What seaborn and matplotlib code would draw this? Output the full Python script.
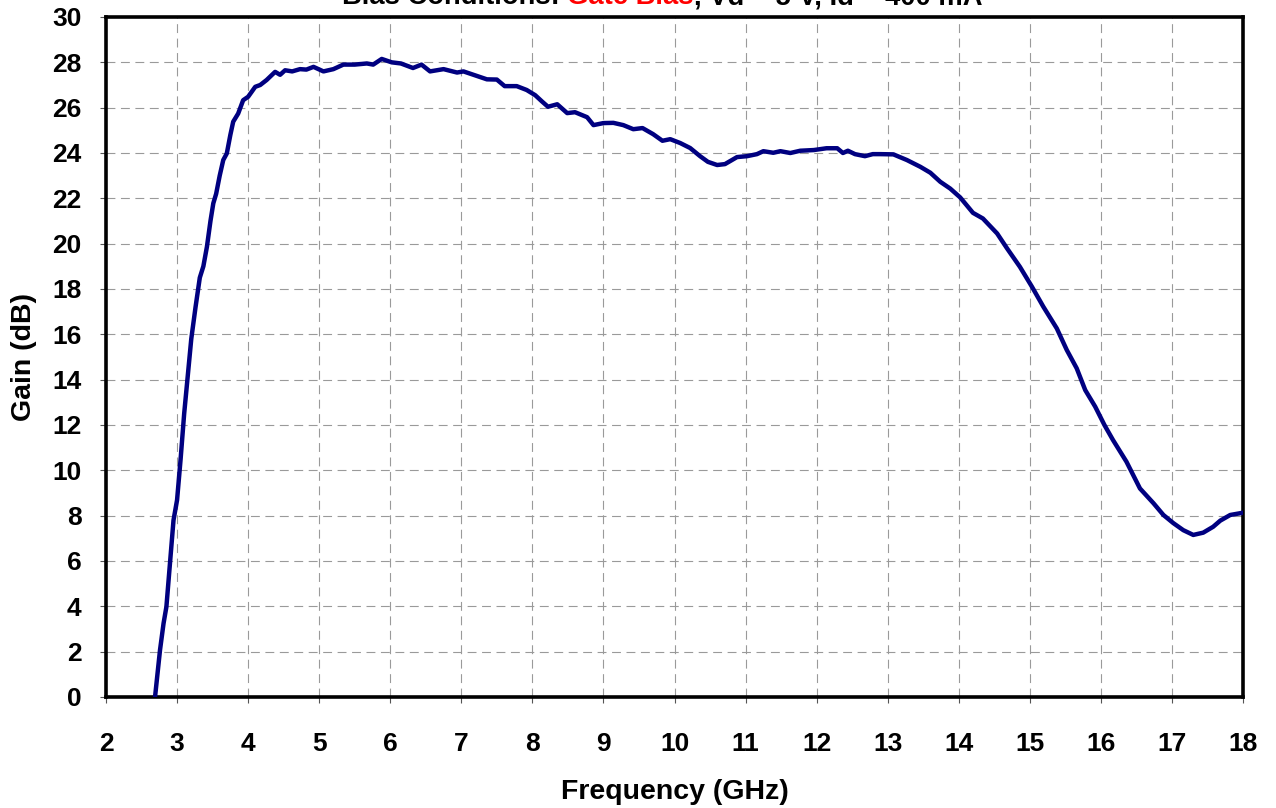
import numpy as np
import pandas as pd
import seaborn as sns
import matplotlib
matplotlib.use("Agg")
import matplotlib.pyplot as plt

# gain curve
freq = [2.69, 2.76, 2.81, 2.85, 2.90, 2.95, 3.00, 3.05, 3.10, 3.13,
        3.20, 3.26, 3.32, 3.37, 3.42, 3.47, 3.51, 3.55, 3.60, 3.65,
        3.70, 3.75, 3.79, 3.86, 3.93, 4.00, 4.10, 4.17, 4.26, 4.38,
        4.45, 4.52, 4.62, 4.73, 4.82, 4.92, 5.06, 5.20, 5.34, 5.50,
        5.67, 5.76, 5.88, 6.02, 6.15, 6.32, 6.44, 6.56, 6.75, 6.94,
        7.03, 7.22, 7.36, 7.50, 7.61, 7.78, 7.92, 8.04, 8.14, 8.22,
        8.35, 8.49, 8.60, 8.77, 8.86, 9.00, 9.14, 9.28, 9.42, 9.55,
        9.70, 9.83, 9.94, 10.08, 10.22, 10.36, 10.47, 10.60, 10.71, 10.88,
        11.02, 11.16, 11.25, 11.39, 11.49, 11.63, 11.77, 11.96, 12.14, 12.29,
        12.37, 12.44, 12.54, 12.68, 12.79, 12.89, 13.08, 13.27, 13.46, 13.60,
        13.74, 13.88, 14.02, 14.20, 14.34, 14.54, 14.68, 14.86, 15.03, 15.19,
        15.38, 15.52, 15.66, 15.78, 15.92, 16.05, 16.17, 16.36, 16.55, 16.74,
        16.88, 17.02, 17.16, 17.30, 17.44, 17.58, 17.68, 17.82, 18.00]
gain = [0.0, 2.07, 3.25, 3.98, 5.9, 7.8, 8.69, 10.5, 12.5, 13.5,
        15.8, 17.2, 18.5, 19.0, 19.86, 21.0, 21.78, 22.2, 23.0, 23.69,
        23.98, 24.8, 25.38, 25.74, 26.33, 26.48, 26.92, 27.0, 27.22, 27.58,
        27.45, 27.65, 27.6, 27.7, 27.68, 27.8, 27.6, 27.7, 27.9, 27.9,
        27.95, 27.9, 28.15, 28.0, 27.95, 27.75, 27.9, 27.6, 27.7, 27.55,
        27.6, 27.4, 27.25, 27.24, 26.95, 26.95, 26.78, 26.55, 26.26, 26.04,
        26.15, 25.76, 25.8, 25.58, 25.23, 25.32, 25.33, 25.23, 25.05, 25.1,
        24.83, 24.54, 24.61, 24.44, 24.22, 23.86, 23.61, 23.47, 23.51, 23.82,
        23.86, 23.95, 24.08, 24.01, 24.08, 24.0, 24.1, 24.13, 24.21, 24.21,
        24.0, 24.1, 23.95, 23.86, 23.95, 23.95, 23.94, 23.69, 23.39, 23.13,
        22.73, 22.43, 22.04, 21.36, 21.11, 20.45, 19.79, 18.98, 18.10, 17.22,
        16.26, 15.31, 14.50, 13.54, 12.81, 12.0, 11.34, 10.38, 9.2, 8.55,
        8.03, 7.67, 7.36, 7.15, 7.25, 7.51, 7.78, 8.03, 8.13]

xticks = list(range(2, 19))
yticks = list(range(0, 31, 2))

title_parts = [("Bias Conditions: ", "black"), ("Gate Bias", "#ff0000"),
               (", Vd = 5 V, Id = 400 mA", "black")]

sns.set_style("white")
plt.rcParams["font.family"] = ["Liberation Sans", "DejaVu Sans"]
plt.rcParams["font.weight"] = "bold"
plt.rcParams["text.color"] = "black"
plt.rcParams["axes.labelcolor"] = "black"
plt.rcParams["xtick.color"] = "black"
plt.rcParams["ytick.color"] = "black"

fig = plt.figure(figsize=(12.76, 8.08), dpi=100)
ax = fig.add_axes([106 / 1276, 1 - 697 / 808, (1243 - 106) / 1276, (697 - 17) / 808])

data = pd.DataFrame({"Frequency": freq, "Gain": gain})
sns.lineplot(data=data, x="Frequency", y="Gain", color="#000080", lw=3.2, ax=ax, zorder=3)

ax.set_xlim(2, 18)
ax.set_ylim(0, 30)
ax.set_xticks(xticks)
ax.set_yticks(yticks)
ax.grid(True, color="#9a9a9a", linestyle=(0, (8, 5)), linewidth=0.8)
ax.set_axisbelow(True)

for s in ax.spines.values():
    s.set_visible(True)
    s.set_color("black")
    s.set_linewidth(2.6)

ax.tick_params(axis="both", direction="out", length=4.5, width=0.8, color="#555555",
               labelcolor="black", labelsize=19, bottom=True, left=True)
ax.tick_params(axis="x", pad=21)
ax.tick_params(axis="y", pad=13)
for lab in ax.get_xticklabels() + ax.get_yticklabels():
    lab.set_fontweight("bold")

ax.set_xlabel("Frequency (GHz)", fontsize=20.5, fontweight="bold", color="black")
ax.set_ylabel("Gain (dB)", fontsize=20.5, fontweight="bold", color="black")
ax.xaxis.set_label_coords(0.5, -0.12)
ax.yaxis.set_label_coords(-0.061, 0.5)

# title is cut off at the top edge, drawn in coloured pieces
fig.canvas.draw()
renderer = fig.canvas.get_renderer()
xpos = 342
for txt, col in title_parts:
    t = fig.text(xpos / 1276, 1 - 4.5 / 808, txt, color=col, fontsize=19.7,
                 fontweight="bold", ha="left", va="baseline")
    xpos += t.get_window_extent(renderer).width

fig.savefig("out.png", dpi=100)
